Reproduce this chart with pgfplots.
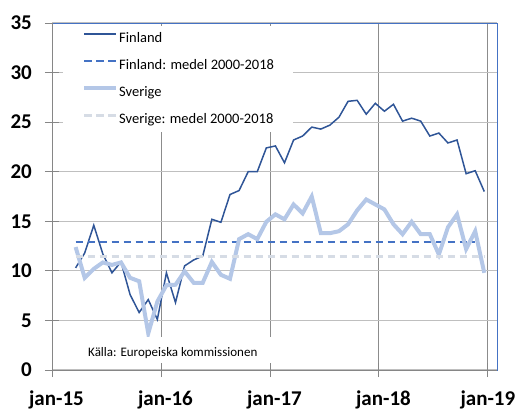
\documentclass[border=0pt]{standalone}
\usepackage{pgfplots}
\pgfplotsset{compat=1.18}
\usepackage{fontspec}
\setmainfont{Carlito}[BoldFont={Carlito Bold}]

\definecolor{fin}{RGB}{47,85,151}
\definecolor{finmean}{RGB}{68,114,196}
\definecolor{swe}{RGB}{180,199,231}
\definecolor{swemean}{RGB}{214,220,229}
\definecolor{hgrid}{RGB}{191,191,191}
\definecolor{vgrid}{RGB}{140,140,140}
\definecolor{axgray}{RGB}{134,134,134}

% x = months after jan-15 (points sit at mid-month)
\pgfplotstableread{
x y
2.6 10.3
3.6 11.8
4.6 14.6
5.6 11.7
6.6 9.8
7.6 10.9
8.6 7.6
9.6 5.8
10.6 7.1
11.6 5.1
12.6 9.8
13.6 6.8
14.6 10.5
15.6 11.1
16.6 11.5
17.6 15.2
18.6 14.9
19.6 17.7
20.6 18.1
21.6 20.0
22.6 20.0
23.6 22.4
24.6 22.6
25.6 20.9
26.6 23.2
27.6 23.6
28.6 24.5
29.6 24.3
30.6 24.7
31.6 25.5
32.6 27.1
33.6 27.2
34.6 25.8
35.6 26.9
36.6 26.1
37.6 26.8
38.6 25.1
39.6 25.4
40.6 25.1
41.6 23.6
42.6 23.9
43.6 22.9
44.6 23.2
45.6 19.8
46.6 20.1
47.6 18.0
}\finland

\pgfplotstableread{
x y
2.6 12.4
3.6 9.3
4.6 10.2
5.6 10.85
6.6 10.6
7.6 10.85
8.6 9.3
9.6 8.95
10.6 3.7
11.6 6.9
12.6 8.55
13.6 8.6
14.6 9.95
15.6 8.8
16.6 8.8
17.6 10.9
18.6 9.6
19.6 9.2
20.6 13.2
21.6 13.7
22.6 13.2
23.6 14.95
24.6 15.7
25.6 15.2
26.6 16.7
27.6 15.8
28.6 17.5
29.6 13.8
30.6 13.8
31.6 14.0
32.6 14.7
33.6 16.1
34.6 17.2
35.6 16.7
36.6 16.2
37.6 14.7
38.6 13.7
39.6 14.95
40.6 13.7
41.6 13.7
42.6 11.65
43.6 14.4
44.6 15.7
45.6 12.2
46.6 14.0
47.6 9.8
}\sverige

\begin{document}
\begin{tikzpicture}
\useasboundingbox (-52pt,-40pt) rectangle (478pt,370pt);
\begin{axis}[
  scale only axis, width=445pt, height=347pt,
  at={(0,0)}, anchor=south west,
  xmin=0, xmax=49, ymin=0, ymax=35,
  xtick={0,12,24,36,48},
  xticklabels={jan-15,jan-16,jan-17,jan-18,\hspace{-9pt}jan-19},
  ytick={0,5,...,35},
  yticklabels={0,5,10,15,20,25,30,35},
  xtick pos=bottom, ytick pos=left,
  tick align=center,
  major tick length=14pt,
  tick style={axgray, line width=0.9pt},
  xticklabel style={font=\fontsize{21}{25}\selectfont\bfseries, inner sep=0pt, anchor=base, yshift=-28pt, xshift=4.5pt},
  yticklabel style={font=\fontsize{21}{25}\selectfont\bfseries, inner sep=0pt, anchor=east, xshift=-13pt},
  xmajorgrids, ymajorgrids,
  x grid style={vgrid, line width=0.9pt},
  y grid style={hgrid, line width=1.1pt},
  axis line style={finmean, line width=0.8pt},
  legend cell align=left,
  legend style={
    at={(axis description cs:0.0247,0.9914)}, anchor=north west,
    draw=none, fill=white,
    inner xsep=19pt, inner ysep=6pt,
    row sep=14pt, column sep=1pt,
    font=\fontsize{14.5}{17}\selectfont,
    nodes={inner sep=0pt, text height=10pt, text depth=3pt},
  },
  legend image code/.code={\draw[#1] (0pt,4.5pt) -- (32pt,4.5pt);},
]
\addplot[fin, line width=1.5pt, mark=none] table[x=x, y=y] {\finland};
\addlegendentry{Finland}
\addplot[finmean, line width=2.3pt, dash pattern=on 7.5pt off 4.5pt, mark=none]
  coordinates {(2.6,12.88) (46.6,12.88)};
\addlegendentry{Finland: medel 2000-2018}
\addplot[swe, line width=4pt, mark=none] table[x=x, y=y] {\sverige};
\addlegendentry{Sverige}
\addplot[swemean, line width=3pt, dash pattern=on 7.5pt off 4.5pt, mark=none]
  coordinates {(2.6,11.43) (47.6,11.43)};
\addlegendentry{Sverige: medel 2000-2018}
\fill[white] (axis cs:0.4,0.72) rectangle (axis cs:26,3.33);
\node[font=\fontsize{13}{15}\selectfont, inner sep=0pt] at (axis cs:13.3,1.75) {Källa: Europeiska kommissionen};
\draw[axgray, line width=0.9pt] (rel axis cs:0,0) -- (rel axis cs:0,1);
\draw[axgray, line width=0.9pt] (rel axis cs:0,0) -- (rel axis cs:1,0);
\end{axis}
\end{tikzpicture}
\end{document}
